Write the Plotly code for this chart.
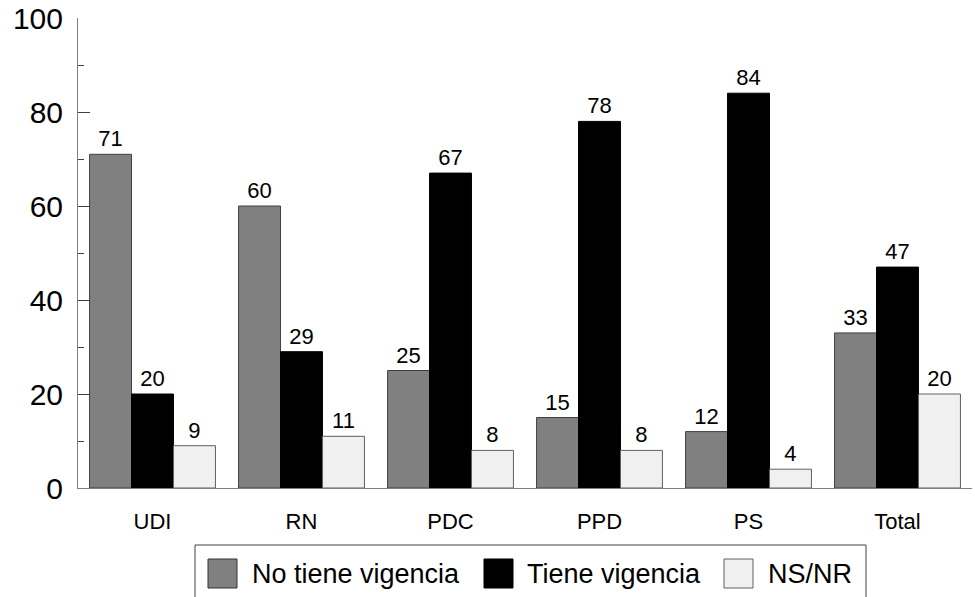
import plotly.graph_objects as go

categories = ["UDI", "RN", "PDC", "PPD", "PS", "Total"]
no_tiene = [71, 60, 25, 15, 12, 33]
tiene = [20, 29, 67, 78, 84, 47]
nsnr = [9, 11, 8, 8, 4, 20]
series_names = ["No tiene vigencia", "Tiene vigencia", "NS/NR"]
y_ticks = [0, 20, 40, 60, 80, 100]

colors = ["#808080", "#000000", "#f0f0f0"]
line_colors = ["#404040", "#000000", "#606060"]
FONT = "Liberation Sans, Arial, sans-serif"

# plot-area geometry in pixels (layout, not data)
W, H = 975, 597
L, R, T, B = 78, 3, 18, 109
PW, PH = W - L - R, H - T - B


def px(x):
    return (x - L) / PW


def py(y):
    return (H - B - y) / PH


fig = go.Figure()
for name, vals, c, lc in zip(series_names, [no_tiene, tiene, nsnr], colors, line_colors):
    fig.add_trace(go.Bar(
        x=categories, y=vals, name=name, showlegend=False,
        marker=dict(color=c, line=dict(color=lc, width=1)),
        text=[str(v) for v in vals], textposition="outside",
        textfont=dict(size=22, color="black", family=FONT),
        cliponaxis=False,
    ))

# custom legend (box, swatches, labels)
shapes = [dict(type="rect", xref="paper", yref="paper",
               x0=px(195), x1=px(866), y0=py(545), y1=py(620),
               line=dict(color="#404040", width=1), fillcolor="white", layer="above")]
annotations = []
swatch_x = [208, 484, 724]
text_x = [252, 527, 768]
for name, c, lc, sx, tx in zip(series_names, colors, line_colors, swatch_x, text_x):
    shapes.append(dict(type="rect", xref="paper", yref="paper",
                       x0=px(sx), x1=px(sx + 29), y0=py(559), y1=py(588),
                       line=dict(color=lc if c != "#808080" else "#303030", width=1),
                       fillcolor=c, layer="above"))
    annotations.append(dict(text=name, xref="paper", yref="paper",
                            x=px(tx - 2), y=py(574), xanchor="left", yanchor="middle",
                            showarrow=False, font=dict(size=27, family=FONT, color="black")))

fig.update_layout(
    width=W, height=H,
    margin=dict(l=L, r=R, t=T, b=B, autoexpand=False),
    paper_bgcolor="white", plot_bgcolor="white",
    barmode="group", bargap=0.155, bargroupgap=0,
    font=dict(family=FONT, color="black"),
    showlegend=False,
    shapes=shapes, annotations=annotations,
)
fig.update_yaxes(
    range=[0, 100], tickvals=y_ticks, ticks="inside", ticklen=12, tickcolor="#404040",
    minor=dict(dtick=10, ticks="inside", ticklen=6, tickcolor="#404040"),
    showgrid=False, zeroline=False, showline=True, linecolor="#808080", linewidth=1,
    tickfont=dict(size=30, family=FONT, color="black"), ticklabelstandoff=8,
    automargin=False,
)
fig.update_xaxes(
    showline=True, linecolor="#808080", linewidth=1, ticks="", showgrid=False,
    tickfont=dict(size=22, family=FONT, color="black"), ticklabelstandoff=14,
    automargin=False,
)

fig.write_html("out.html", config={"displayModeBar": False},
               post_script="document.body.style.margin='0px';document.body.style.overflow='hidden';")
